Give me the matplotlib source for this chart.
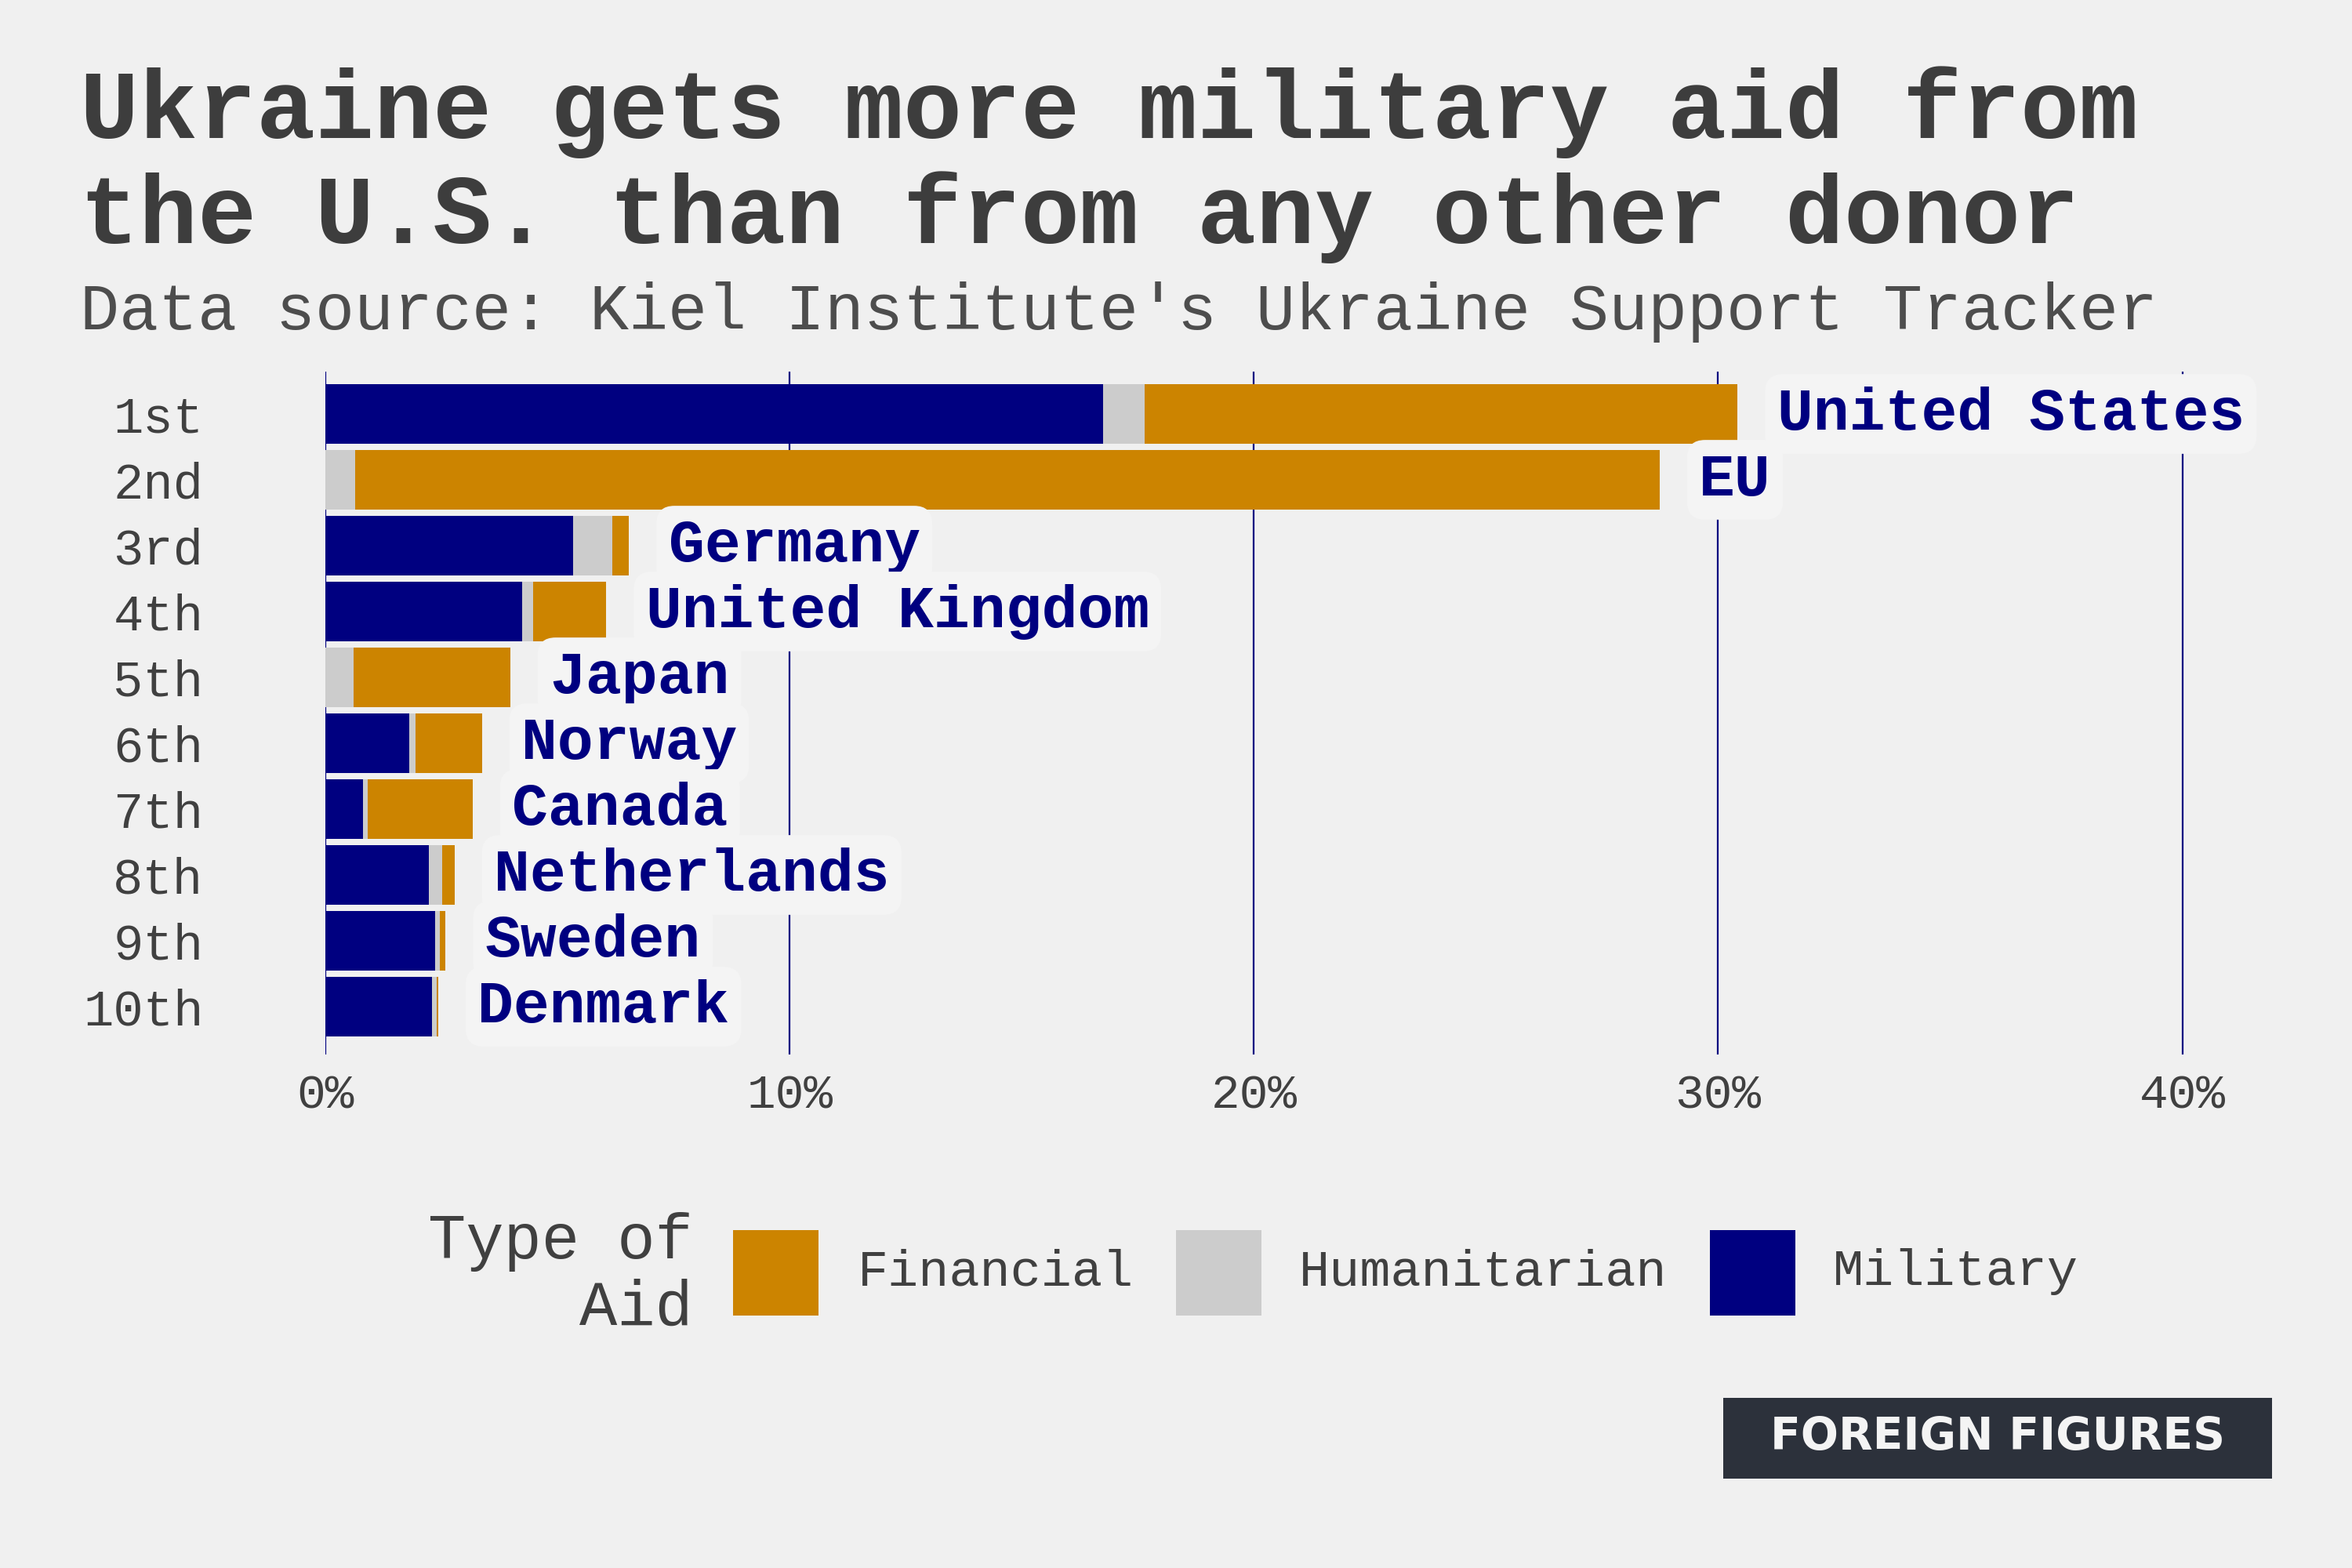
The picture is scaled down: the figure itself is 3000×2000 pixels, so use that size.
import matplotlib
matplotlib.use('Agg')
import matplotlib.pyplot as plt
from matplotlib.patches import Rectangle
import numpy as np

# share of total aid, in percent
ranks = ['1st', '2nd', '3rd', '4th', '5th', '6th', '7th', '8th', '9th', '10th']
donors = ['United States', 'EU', 'Germany', 'United Kingdom', 'Japan',
          'Norway', 'Canada', 'Netherlands', 'Sweden', 'Denmark']
military = [16.76, 0.0, 5.34, 4.24, 0.0, 1.81, 0.81, 2.23, 2.36, 2.30]
humanitarian = [0.88, 0.65, 0.84, 0.23, 0.61, 0.13, 0.10, 0.29, 0.10, 0.09]
financial = [12.78, 28.09, 0.36, 1.58, 3.37, 1.43, 2.26, 0.26, 0.13, 0.04]
xticks = [0, 10, 20, 30, 40]

BG = '#f0f0f0'
NAVY = '#000080'
ORANGE = '#cc8400'
GREY = '#cccccc'
TXT = '#404040'
MONO = 'Liberation Mono'

fig = plt.figure(figsize=(15, 10), dpi=200, facecolor=BG)
ax = fig.add_axes([415 / 3000, 0.3275, 0.829, 0.4355], facecolor=BG)

y = np.arange(len(donors))
mil = np.array(military)
hum = np.array(humanitarian)
fin = np.array(financial)
ax.barh(y, mil, height=0.91, color=NAVY, zorder=2)
ax.barh(y, hum, left=mil, height=0.91, color=GREY, zorder=2)
ax.barh(y, fin, left=mil + hum, height=0.91, color=ORANGE, zorder=2)

totals = mil + hum + fin
for yi, tot, name in zip(y, totals, donors):
    ax.text(tot + 0.85, yi, name, ha='left', va='center', family=MONO,
            fontweight='bold', fontsize=27.5, color=NAVY, zorder=4,
            bbox=dict(boxstyle='round,pad=0.2,rounding_size=0.3',
                      facecolor='#f4f4f4', edgecolor='none'))

ax.set_xlim(0, 42)
ax.set_ylim(9.726, -0.643)
ax.set_xticks(xticks)
ax.set_xticklabels([f'{t}%' for t in xticks])
ax.set_yticks(y)
ax.set_yticklabels(ranks)
ax.xaxis.grid(True, color=NAVY, linewidth=0.8, zorder=0)
ax.yaxis.grid(False)
ax.set_axisbelow(True)
for s in ax.spines.values():
    s.set_visible(False)
ax.tick_params(axis='y', length=0, pad=56, labelsize=23, labelcolor=TXT)
ax.tick_params(axis='x', length=0, pad=9, labelsize=22, labelcolor=TXT)
for lbl in ax.get_xticklabels() + ax.get_yticklabels():
    lbl.set_family(MONO)

# title + subtitle
fig.text(0.034, 0.912, 'Ukraine gets more military aid from', family=MONO,
         fontweight='bold', fontsize=45, color='#3d3d3d', va='baseline')
fig.text(0.034, 0.845, 'the U.S. than from any other donor', family=MONO,
         fontweight='bold', fontsize=45, color='#3d3d3d', va='baseline')
fig.text(0.034, 0.79, "Data source: Kiel Institute's Ukraine Support Tracker",
         family=MONO, fontsize=30, color='#4d4d4d', va='baseline')

# legend
fig.text(0.2947, 0.187, 'Type of\nAid', family=MONO, fontsize=29, color=TXT,
         ha='right', va='center', multialignment='right', linespacing=1.15)
legend_items = [('Financial', ORANGE, 935, 1094),
                ('Humanitarian', GREY, 1500, 1657),
                ('Military', NAVY, 2181, 2338)]
for label, col, kx, tx in legend_items:
    fig.patches.append(Rectangle((kx / 3000, 1 - 1678 / 2000), 109 / 3000, 109 / 2000,
                                 transform=fig.transFigure, facecolor=col,
                                 edgecolor='none'))
    fig.text(tx / 3000, 1 - 1622 / 2000, label, family=MONO, fontsize=23.5,
             color=TXT, ha='left', va='center')

# logo
fig.patches.append(Rectangle((2198 / 3000, 1 - 1886 / 2000), 700 / 3000, 103 / 2000,
                             transform=fig.transFigure, facecolor='#2c313b',
                             edgecolor='none'))
logo = fig.text(2548 / 3000, 1 - 1834 / 2000, 'FOREIGN FIGURES',
                family=['DejaVu Sans Condensed', 'Liberation Sans Narrow', 'DejaVu Sans'],
                fontweight='bold', fontsize=28, color='#f4f4f4',
                ha='center', va='center')
# shrink the logo text so it fits inside the dark box
renderer = fig.canvas.get_renderer()
w = logo.get_window_extent(renderer).width
if w > 580:
    logo.set_fontsize(28 * 580 / w)

fig.savefig('out.png', dpi=200, facecolor=BG)
